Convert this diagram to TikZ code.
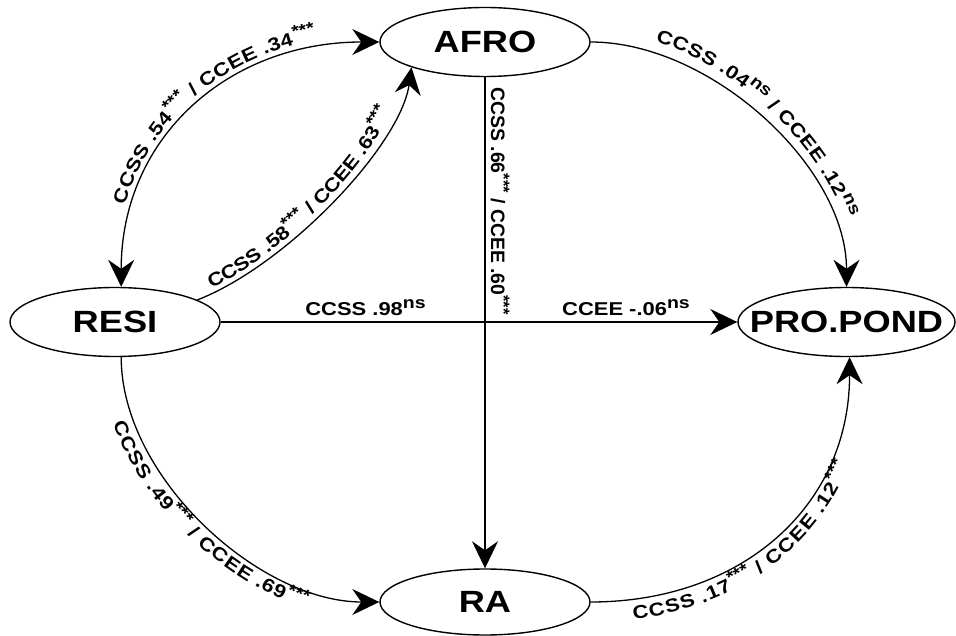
\documentclass[tikz,border=0pt]{standalone}
\usepackage{fontspec}
\setmainfont{Liberation Sans}[FakeStretch=1.18]
\newfontfamily\plainf{Liberation Sans}
\usetikzlibrary{shapes.geometric,arrows.meta,decorations.text}
\newcommand\sps[1]{\raisebox{7pt}{\fontsize{16.5}{16.5}\selectfont #1}}
\newcommand\labf{\fontsize{18.6}{20}\selectfont\bfseries}
\begin{document}
\begin{tikzpicture}[x=1pt,y=-1pt,
  var/.style={ellipse, draw, line width=1.4pt, inner sep=0pt, minimum width=210pt, minimum height=69pt, font=\fontsize{30.7}{32}\selectfont\bfseries},
  tip/.tip={Stealth[length=27pt,width=26pt,inset=9pt]},
  conn/.style={line width=1.3pt, -tip},
  lab/.style={font=\labf, inner sep=0pt},
  curvlab/.style 2 args={decorate, decoration={text along path, text align=left, text align/left indent=#2, raise=#1}}
]
\useasboundingbox (0,0) rectangle (956,636);
\node[var] (afro) at (485,42) {\makebox[0pt]{AFRO}};
\node[var] (resi) at (115,322) {\makebox[0pt]{RESI}};
\node[var, minimum width=217pt] (pro) at (846.5,322) {\makebox[0pt]{PRO.POND}};
\node[var, minimum height=66pt] (ra) at (485,602) {\makebox[0pt]{RA}};

% connectors
\draw[conn, tip-tip] (afro.west) .. controls +(-150,0) and +(0,-150) .. (resi.80);
\draw[conn] (resi.15) .. controls +(90,-35) and +(-11,78) .. (afro.199);
\draw[conn] (afro.east) .. controls +(120,0) and +(0,-120) .. (pro.north);
\draw[conn] (afro.south) -- (ra.north);
\draw[conn] (resi.east) -- (pro.west);
\draw[conn] (resi.280) .. controls +(0,120) and +(-120,0) .. (ra.west);
\draw[conn] (ra.east) .. controls +(150,0) and +(0,150) .. (pro.275);

% curved labels
\path[curvlab={8pt}{80pt}, decoration={text={|\labf|CCSS .54{\sps{***}} / CCEE .34{\sps{***}}}}]
  (resi.80) .. controls +(0,-150) and +(-150,0) .. (afro.west);
\path[curvlab={5pt}{18pt}, decoration={text={|\labf|CCSS .58{\sps{***}} / CCEE .63{\sps{***}}}}]
  (resi.15) .. controls +(90,-35) and +(-11,78) .. (afro.199);
\path[curvlab={11pt}{62pt}, decoration={text={|\labf|CCSS .04{\sps{ns}} / CCEE .12{\sps{ns}}}}]
  (afro.east) .. controls +(120,0) and +(0,-120) .. (pro.north);
\path[curvlab={-20pt}{60pt}, decoration={text={|\labf|CCSS .49{\sps{***}} / CCEE .69{\sps{***}}}}]
  (resi.280) .. controls +(0,120) and +(-120,0) .. (ra.west);
\path[curvlab={-20pt}{40pt}, decoration={text={|\labf|CCSS .17{\sps{***}} / CCEE .12{\sps{***}}}}]
  (ra.east) .. controls +(150,0) and +(0,150) .. (pro.275);

% straight labels
\node[lab, font=\plainf\fontsize{19.4}{20}\selectfont\bfseries, rotate=-90, anchor=base] (l4) at (491,201) {CCSS .66\sps{***} / CCEE .60\sps{***}};
\node[lab, anchor=base] (l5a) at (365.5,316) {CCSS .98\sps{ns}};
\node[lab, anchor=base] (l5b) at (626,316) {CCEE -.06\sps{ns}};
\end{tikzpicture}
\end{document}
